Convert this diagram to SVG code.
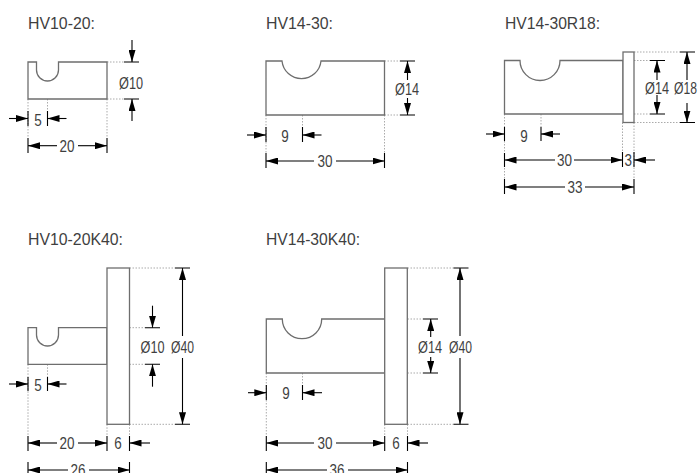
<svg xmlns="http://www.w3.org/2000/svg" width="698" height="473" viewBox="0 0 698 473">
<style>
text{font-family:"Liberation Sans",Arial,sans-serif;fill:#3f3f3f}
.t{font-size:17px}
.d{font-size:16.500px;text-anchor:middle}
.s{fill:#fff;stroke:#6e6e6e;stroke-width:1.3}
.k{fill:none;stroke:#000;stroke-width:1.1}
.a{fill:none;stroke:#000;stroke-width:1.1;marker-end:url(#ar)}
.o{fill:none;stroke:#aaa;stroke-width:1;stroke-dasharray:1.5 1.5}
</style>
<defs>
<marker id="ar" markerUnits="userSpaceOnUse" markerWidth="13" markerHeight="7" refX="12" refY="3.500" orient="auto-start-reverse"><path d="M0,0L12,3.500L0,7Z" fill="#000"/></marker>
</defs>
<rect width="698" height="473" fill="#fff"/>

<g id="connectors">
<!-- HV10-20 -->
<path class="o" d="M107 62H124M107 99H124M28 99V138M47.500 99V111M107 99V138"/>
<path class="k" d="M124 62H139M124 99H139M28 111V126M47.500 111V126M28 138V153M107 138V153"/>
<path class="a" d="M132 40V62"/><path class="a" d="M132 121V99"/>
<path class="a" d="M9 118.500H28"/><path class="a" d="M66.500 118.500H47.500"/>
<path class="a" d="M57 145.700H28"/><path class="a" d="M78 145.700H107"/>
<!-- HV14-30 -->
<path class="o" d="M384.500 61H400M384.500 115H400M266 115V153M302.500 115V127M384.500 115V153"/>
<path class="k" d="M400 61H415M400 115H415M266 127V142M302.500 127V142M266 153V168M384.500 153V168"/>
<path class="a" d="M407.500 80V61"/><path class="a" d="M407.500 98V115"/>
<path class="a" d="M247 135H266"/><path class="a" d="M321.500 135H302.500"/>
<path class="a" d="M314 161H266"/><path class="a" d="M336 161H384.500"/>
<!-- HV14-30R18 -->
<path class="o" d="M634 52H680M634 60.500H650M634 114H650M634 122.500H680M504.500 114V179M541 114V127M622.500 122.500V152M634 122.500V179"/>
<path class="k" d="M680 52H695M680 122.500H695M650 60.500H665M650 114H665M504.500 127V141M541 127V141M504.500 153V167M622.500 152V167M634 152V167M504.500 179V194M634 179V194"/>
<path class="a" d="M687 80V52"/><path class="a" d="M687 103V122.500"/>
<path class="a" d="M657 80V60.500"/><path class="a" d="M657 95V114"/>
<path class="a" d="M486 134H504.500"/><path class="a" d="M560 134H541"/>
<path class="a" d="M555 160H504.500"/><path class="a" d="M574 160H622.500"/><path class="a" d="M655 160H634"/>
<path class="a" d="M565 187H504.500"/><path class="a" d="M585 187H634"/>
<!-- HV10-20K40 -->
<path class="o" d="M129.500 268H175M129.500 424.300H175M129.500 327.700H145M129.500 364.300H145M28 364.300V436M47.500 364.300V377M107 424.300V436M129.500 424.300V436"/>
<path class="k" d="M175 268H190M175 424.300H190M145 327.700H160M145 364.300H160M28 377V391M47.500 377V391M28 436V451M107 436V451M129.500 436V451M28 462V473M129.500 462V473"/>
<path class="a" d="M182.500 336V268"/><path class="a" d="M182.500 358V424.300"/>
<path class="a" d="M152.500 305.700V327.700"/><path class="a" d="M152.500 386.700V364.300"/>
<path class="a" d="M9 384H28"/><path class="a" d="M66.500 384H47.500"/>
<path class="a" d="M57 443H28"/><path class="a" d="M78 443H107"/><path class="a" d="M150 443H129.500"/>
<path class="a" d="M68 470H28"/><path class="a" d="M89 470H129.500"/>
<!-- HV14-30K40 -->
<path class="o" d="M407.500 268H453.500M407.500 424.300H453.500M407.500 319H423M407.500 373H423M266.300 373V436M302.500 373V385M384.700 424.300V436M407.500 424.300V436"/>
<path class="k" d="M453.500 268H468.500M453.500 424.300H468.500M423 319H438M423 373H438M266.300 385V400M302.500 385V400M266.300 436V451M384.700 436V451M407.500 436V451M266.300 462V473M407.500 462V473"/>
<path class="a" d="M460 336V268"/><path class="a" d="M460 358V424.300"/>
<path class="a" d="M430.700 337V319"/><path class="a" d="M430.700 357V373"/>
<path class="a" d="M248 392.700H266.300"/><path class="a" d="M322 392.700H302.500"/>
<path class="a" d="M314 443H266.300"/><path class="a" d="M336 443H384.700"/><path class="a" d="M428 443H407.500"/>
<path class="a" d="M327 470H266.300"/><path class="a" d="M348 470H407.500"/>
</g>

<g id="hv10-20">
<path class="s" d="M28 62H36.500V70A11 11 0 0 0 58.500 70V62H107V99H28Z"/>
<text class="t" x="28" y="28.500" textLength="67" lengthAdjust="spacingAndGlyphs">HV10-20:</text>
<text class="d" x="131" y="88.500" textLength="24" lengthAdjust="spacingAndGlyphs">Ø10</text>
<text class="d" x="38" y="126" textLength="7.500" lengthAdjust="spacingAndGlyphs">5</text>
<text class="d" x="67" y="151.500" textLength="15" lengthAdjust="spacingAndGlyphs">20</text>
</g>

<g id="hv14-30">
<path class="s" d="M266 61H282A19.600 19.600 0 0 0 321 61H384.500V115H266Z"/>
<text class="t" x="266" y="28.500" textLength="67" lengthAdjust="spacingAndGlyphs">HV14-30:</text>
<text class="d" x="407" y="95" textLength="24" lengthAdjust="spacingAndGlyphs">Ø14</text>
<text class="d" x="285" y="142" textLength="7.500" lengthAdjust="spacingAndGlyphs">9</text>
<text class="d" x="325" y="167" textLength="15" lengthAdjust="spacingAndGlyphs">30</text>
</g>

<g id="hv14-30r18">
<path class="s" d="M504.500 60.500H520A20 20 0 0 0 560 60.500H623V114H504.500Z"/>
<rect class="s" x="623" y="52" width="11" height="70.500"/>
<text class="t" x="505" y="28.500" textLength="95" lengthAdjust="spacingAndGlyphs">HV14-30R18:</text>
<text class="d" x="657" y="94" textLength="24" lengthAdjust="spacingAndGlyphs">Ø14</text>
<text class="d" x="685.500" y="94" textLength="23" lengthAdjust="spacingAndGlyphs">Ø18</text>
<text class="d" x="524" y="142" textLength="7.500" lengthAdjust="spacingAndGlyphs">9</text>
<text class="d" x="564.500" y="166" textLength="15" lengthAdjust="spacingAndGlyphs">30</text>
<text class="d" x="628.300" y="166" textLength="7.500" lengthAdjust="spacingAndGlyphs">3</text>
<text class="d" x="575" y="193" textLength="15" lengthAdjust="spacingAndGlyphs">33</text>
</g>

<g id="hv10-20k40">
<path class="s" d="M28 327.700H36.500V335A11 11 0 0 0 58.500 335V327.700H107V364.300H28Z"/>
<rect class="s" x="107" y="268" width="22.500" height="156.300"/>
<text class="t" x="28" y="245" textLength="95" lengthAdjust="spacingAndGlyphs">HV10-20K40:</text>
<text class="d" x="152.500" y="353" textLength="24" lengthAdjust="spacingAndGlyphs">Ø10</text>
<text class="d" x="182.500" y="352.500" textLength="23" lengthAdjust="spacingAndGlyphs">Ø40</text>
<text class="d" x="38" y="391" textLength="7.500" lengthAdjust="spacingAndGlyphs">5</text>
<text class="d" x="67" y="449" textLength="15" lengthAdjust="spacingAndGlyphs">20</text>
<text class="d" x="118" y="449" textLength="7.500" lengthAdjust="spacingAndGlyphs">6</text>
<text class="d" x="78" y="476" textLength="15" lengthAdjust="spacingAndGlyphs">26</text>
</g>

<g id="hv14-30k40">
<path class="s" d="M266.300 319H282.300A19.700 19.700 0 0 0 321.700 319H384.700V373H266.300Z"/>
<rect class="s" x="384.700" y="268" width="22.600" height="156.300"/>
<text class="t" x="266" y="245" textLength="94" lengthAdjust="spacingAndGlyphs">HV14-30K40:</text>
<text class="d" x="430" y="352.500" textLength="24" lengthAdjust="spacingAndGlyphs">Ø14</text>
<text class="d" x="460.500" y="352.500" textLength="23" lengthAdjust="spacingAndGlyphs">Ø40</text>
<text class="d" x="286" y="399" textLength="7.500" lengthAdjust="spacingAndGlyphs">9</text>
<text class="d" x="325" y="449" textLength="15" lengthAdjust="spacingAndGlyphs">30</text>
<text class="d" x="396" y="449" textLength="7.500" lengthAdjust="spacingAndGlyphs">6</text>
<text class="d" x="337" y="476" textLength="15" lengthAdjust="spacingAndGlyphs">36</text>
</g>
</svg>
